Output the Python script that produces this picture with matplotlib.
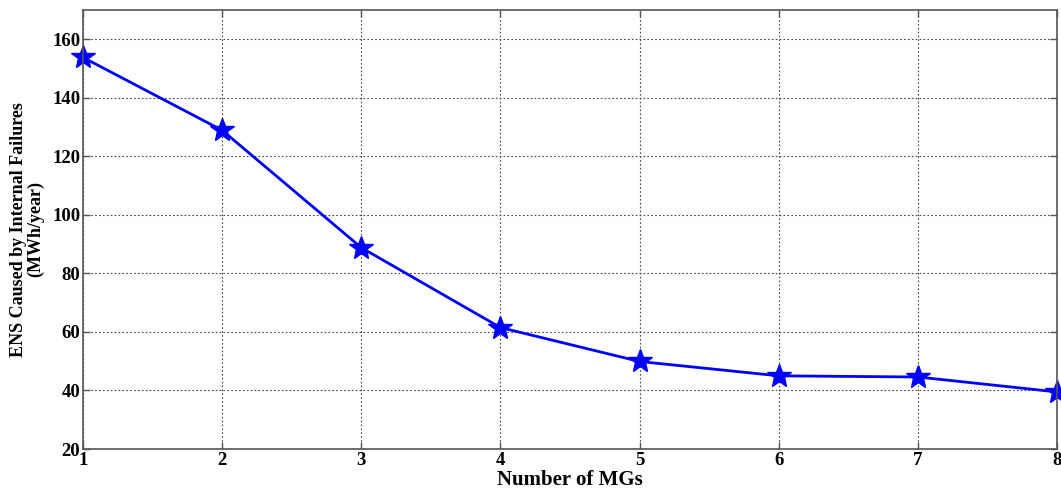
import matplotlib
matplotlib.use("Agg")
import matplotlib.pyplot as plt

num_mgs = [1, 2, 3, 4, 5, 6, 7, 8]
ens_internal = [153.8, 128.9, 88.8, 61.5, 49.9, 45.0, 44.6, 39.5]
y_ticks = [20, 40, 60, 80, 100, 120, 140, 160]

plt.rcParams["font.family"] = ["Liberation Serif", "DejaVu Serif"]
plt.rcParams["font.weight"] = "bold"

fig = plt.figure(figsize=(10.61, 4.95), dpi=100)
ax = fig.add_axes([83 / 1061, 1 - 449 / 495, (1057 - 83) / 1061, (449 - 10) / 495])

ax.plot(num_mgs, ens_internal, color="#0000ff", linewidth=2.0,
        marker="*", markersize=18, markeredgecolor="#0000ff", clip_on=False)

ax.set_xlim(1, 8)
ax.set_ylim(20, 170)
ax.set_xticks(num_mgs)
ax.set_yticks(y_ticks)
ax.grid(True, linestyle=(0, (1.5, 2)), color="#444444", linewidth=0.8)
ax.tick_params(direction="in", top=True, right=True, length=5, width=1,
               labelsize=13.5, pad=2, colors="#555555", labelcolor="black")
for lbl in ax.get_xticklabels() + ax.get_yticklabels():
    lbl.set_fontweight("bold")
for sp in ax.spines.values():
    sp.set_color("#555555")
    sp.set_linewidth(1.2)

ax.set_xlabel("Number of MGs", fontsize=15, fontweight="bold", labelpad=1)
ax.set_ylabel("ENS Caused by Internal Failures\n(MWh/year)", fontsize=13,
              fontweight="bold", labelpad=6, linespacing=0.95)

fig.savefig("out.png", dpi=100)
